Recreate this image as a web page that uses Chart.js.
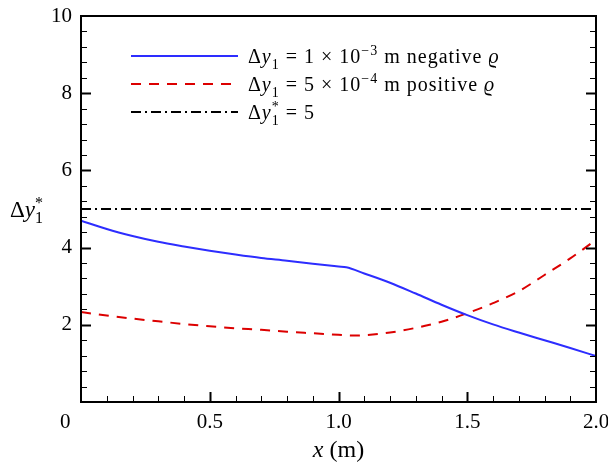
<!DOCTYPE html>
<html>
<head>
<meta charset="utf-8">
<script src="https://cdn.jsdelivr.net/npm/chart.js@4.4.1/dist/chart.umd.min.js"></script>
<style>
  html, body { margin: 0; padding: 0; background: #fff; }
  #wrap { width: 608px; height: 463px; }
</style>
</head>
<body>
<div id="wrap"><canvas id="chart" width="608" height="463"></canvas></div>
<script>
// dy1 = 1e-3 m, negative rho
const negX = [0, 0.1, 0.2, 0.3, 0.4, 0.5, 0.6, 0.7, 0.8, 0.9, 1.0, 1.03, 1.1, 1.2, 1.3, 1.4, 1.5, 1.6, 1.7, 1.8, 1.9, 2.0];
const negY = [4.70, 4.48, 4.30, 4.15, 4.03, 3.92, 3.82, 3.73, 3.66, 3.58, 3.51, 3.49, 3.33, 3.09, 2.81, 2.52, 2.25, 2.01, 1.80, 1.60, 1.40, 1.19];
// dy1 = 5e-4 m, positive rho
const posX = [0, 0.1, 0.2, 0.3, 0.4, 0.5, 0.6, 0.7, 0.8, 0.9, 1.0, 1.05, 1.1, 1.2, 1.3, 1.4, 1.5, 1.6, 1.7, 1.8, 1.9, 2.0];
const posY = [2.33, 2.24, 2.16, 2.09, 2.02, 1.96, 1.91, 1.87, 1.82, 1.78, 1.74, 1.72, 1.73, 1.80, 1.92, 2.08, 2.30, 2.56, 2.87, 3.29, 3.72, 4.20];
// dy1* = 5
const refX = [0, 2];
const refY = [5, 5];

const xTickLabels = ['0', '0.5', '1.0', '1.5', '2.0'];
const yTickLabels = ['', '2', '4', '6', '8', '10'];

const SERIF = '"Liberation Serif", "Times New Roman", "DejaVu Serif", serif';

function toPoints(xs, ys) {
  return xs.map((x, i) => ({ x: x, y: ys[i] }));
}

// draws text with italic / subscript / superscript pieces
function drawRich(ctx, parts, x, y, size) {
  parts.forEach(p => {
    const s = (p.sub || p.sup) ? Math.round(size * 0.7) : size;
    ctx.font = (p.i ? 'italic ' : '') + s + 'px ' + SERIF;
    let dy = 0;
    if (p.sub) dy = size * 0.28;
    if (p.sup) dy = -size * 0.38;
    ctx.fillText(p.t, x, y + dy);
    if (!p.keep) x += ctx.measureText(p.t).width;
  });
  return x;
}

const legendRows = [
  [{ t: 'Δ' }, { t: 'y', i: 1 }, { t: '1', sub: 1 }, { t: ' = 1 × 10' }, { t: '−3', sup: 1 }, { t: ' m negative ' }, { t: 'ϱ', i: 1 }],
  [{ t: 'Δ' }, { t: 'y', i: 1 }, { t: '1', sub: 1 }, { t: ' = 5 × 10' }, { t: '−4', sup: 1 }, { t: ' m positive ' }, { t: 'ϱ', i: 1 }],
  [{ t: 'Δ' }, { t: 'y', i: 1 }, { t: '1', sub: 1, keep: 1 }, { t: '*', sup: 1 }, { t: ' = 5' }]
];

const framePlugin = {
  id: 'frame',
  afterDatasetsDraw(chart) {
    const { ctx, chartArea: a, scales: { x, y } } = chart;
    ctx.save();
    ctx.strokeStyle = '#000';

    // inward ticks, bottom
    for (let i = 1; i < 20; i++) {
      const major = i % 5 === 0;
      const px = Math.round(x.getPixelForValue(i / 10)) + 0.5;
      ctx.lineWidth = major ? 2 : 1;
      ctx.beginPath();
      ctx.moveTo(px, a.bottom);
      ctx.lineTo(px, a.bottom - (major ? 10 : 6));
      ctx.stroke();
    }
    // inward ticks, left and right
    for (let i = 1; i < 25; i++) {
      const major = i % 5 === 0;
      const py = Math.round(y.getPixelForValue(i * 0.4)) + 0.5;
      const len = major ? 10 : 6;
      ctx.lineWidth = major ? 2 : 1;
      ctx.beginPath();
      ctx.moveTo(a.left, py);
      ctx.lineTo(a.left + len, py);
      ctx.moveTo(a.right, py);
      ctx.lineTo(a.right - len, py);
      ctx.stroke();
    }
    ctx.lineWidth = 2;
    ctx.strokeRect(a.left, a.top, a.right - a.left, a.bottom - a.top);

    // legend
    ctx.textAlign = 'left';
    ctx.textBaseline = 'alphabetic';
    ctx.fillStyle = '#000';
    chart.data.datasets.forEach((ds, i) => {
      const ly = 56 + i * 28;
      ctx.strokeStyle = ds.borderColor;
      ctx.lineWidth = ds.borderWidth;
      ctx.setLineDash(ds.borderDash || []);
      ctx.beginPath();
      ctx.moveTo(131, ly);
      ctx.lineTo(238, ly);
      ctx.stroke();
      ctx.setLineDash([]);
      ctx.letterSpacing = '1px';
      drawRich(ctx, legendRows[i], 248, ly + 7, 20);
      ctx.letterSpacing = '0px';
    });

    // axis titles
    ctx.font = 'italic 24px ' + SERIF;
    const w1 = ctx.measureText('x').width;
    ctx.font = '24px ' + SERIF;
    const w2 = ctx.measureText(' (m)').width;
    const cx = (a.left + a.right) / 2;
    drawRich(ctx, [{ t: 'x', i: 1 }, { t: ' (m)' }], cx - (w1 + w2) / 2, 457, 24);

    drawRich(ctx, [{ t: 'Δ' }, { t: 'y', i: 1 }, { t: '1', sub: 1, keep: 1 }, { t: '*', sup: 1 }], 10, 217, 23);
    ctx.restore();
  }
};

new Chart(document.getElementById('chart'), {
  type: 'line',
  data: {
    datasets: [
      {
        data: toPoints(negX, negY),
        borderColor: 'rgb(45, 45, 255)',
        borderWidth: 2,
        pointRadius: 0,
        cubicInterpolationMode: 'monotone'
      },
      {
        data: toPoints(posX, posY),
        borderColor: 'rgb(220, 0, 0)',
        borderWidth: 2,
        borderDash: [10, 8],
        pointRadius: 0,
        cubicInterpolationMode: 'monotone'
      },
      {
        data: toPoints(refX, refY),
        borderColor: '#000',
        borderWidth: 2,
        borderDash: [10, 4, 2, 4],
        pointRadius: 0
      }
    ]
  },
  options: {
    responsive: false,
    animation: false,
    layout: { padding: { top: 16, right: 12, left: 0, bottom: 0 } },
    plugins: {
      legend: { display: false },
      tooltip: { enabled: false }
    },
    scales: {
      x: {
        type: 'linear',
        min: 0,
        max: 2,
        grid: { display: false, drawTicks: false },
        border: { display: false },
        ticks: {
          stepSize: 0.5,
          padding: 8,
          color: '#000',
          maxRotation: 0,
          font: { family: SERIF, size: 21 },
          callback: (v, i) => i === 0 ? xTickLabels[0] + '\u2002\u2002\u2002' : xTickLabels[i]
        },
        afterFit: s => {
          s.height = 61;
          s.paddingLeft = 0;
          s.paddingRight = 0;
        }
      },
      y: {
        min: 0,
        max: 10,
        grid: { display: false, drawTicks: false },
        border: { display: false },
        ticks: {
          stepSize: 2,
          padding: 9,
          color: '#000',
          font: { family: SERIF, size: 21 },
          callback: (v, i) => yTickLabels[i]
        },
        afterFit: s => {
          s.width = 81;
          s.paddingTop = 0;
          s.paddingBottom = 0;
        }
      }
    }
  },
  plugins: [framePlugin]
});
</script>
</body>
</html>
